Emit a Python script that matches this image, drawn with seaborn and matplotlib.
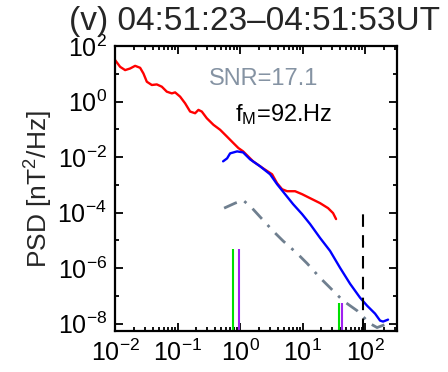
import numpy as np
import pandas as pd
import matplotlib
matplotlib.use("Agg")
import matplotlib.pyplot as plt
import matplotlib.ticker as mticker
import seaborn as sns

# ---- data (log10 values) ----
red_logf = [-2.0, -1.92, -1.84, -1.76, -1.68, -1.6, -1.547, -1.493, -1.413, -1.333,
            -1.253, -1.173, -1.093, -1.04, -0.96, -0.88, -0.80, -0.72, -0.667, -0.613,
            -0.533, -0.427, -0.32, -0.213, -0.107, -0.027, 0.048, 0.208, 0.368, 0.512,
            0.592, 0.672, 0.752, 0.88, 0.992, 1.12, 1.28, 1.408, 1.488, 1.536]
red_logp = [1.495, 1.254, 1.136, 1.194, 1.29, 1.219, 1.014, 0.717, 0.599, 0.620,
            0.538, 0.358, 0.297, 0.333, 0.179, -0.061, -0.358, -0.419, -0.298, -0.358,
            -0.599, -0.835, -1.014, -1.254, -1.495, -1.674, -1.792, -2.152, -2.403, -2.619,
            -2.941, -3.157, -3.229, -3.229, -3.336, -3.48, -3.659, -3.839, -4.018, -4.233]

blue_logf = [-0.272, -0.208, -0.16, -0.048, 0.048, 0.16, 0.32, 0.48, 0.592, 0.72,
             0.848, 0.992, 1.12, 1.28, 1.44, 1.6, 1.76, 1.92, 2.032, 2.16,
             2.24, 2.288, 2.368]
blue_logp = [-2.152, -2.045, -1.865, -1.794, -1.83, -2.081, -2.332, -2.619, -2.977, -3.336,
             -3.695, -4.054, -4.412, -4.914, -5.381, -5.99, -6.565, -7.067, -7.354, -7.641,
             -7.892, -7.928, -7.857]

gray_logf = [-0.256, -0.08, 0.048, 0.192, 0.352, 0.528, 0.688, 0.912, 1.072, 1.28,
             1.488, 1.648, 1.872, 2.0, 2.08, 2.192, 2.32]
gray_logp = [-3.839, -3.659, -3.551, -3.839, -4.233, -4.664, -5.022, -5.47, -5.83, -6.35,
             -6.816, -7.175, -7.534, -7.821, -8.0, -8.143, -8.036]

green_f = [0.77, 38.4]
purple_f = [0.96, 42.9]
stick_tops = [10 ** -5.31, 10 ** -7.25]
fM = 92.0
fM_top = 10 ** -4.05

title_text = "(v) 04:51:23\u201304:51:53UT"
snr_text = "SNR=17.1"
fm_text = r"f$_{\rm M}$=92.Hz"
ylabel_text = r"PSD [nT$^2$/Hz]"

xlim = (10 ** -2.0, 10 ** 2.51)
ylim = (10 ** -8.27, 10 ** 2.0)

# ---- style ----
sns.set_style("ticks")
plt.rcParams["font.family"] = ["Liberation Sans", "DejaVu Sans"]
plt.rcParams["mathtext.fontset"] = "custom"
plt.rcParams["mathtext.rm"] = "Liberation Sans"
plt.rcParams["mathtext.it"] = "Liberation Sans:italic"
plt.rcParams["mathtext.bf"] = "Liberation Sans:bold"

fig = plt.figure(figsize=(4.48, 3.72), dpi=100)
ax = fig.add_axes([0.257, 0.110, 0.629, 0.766])

def frame(lf, lp, name):
    return pd.DataFrame({"f": np.power(10.0, lf), "p": np.power(10.0, lp), "s": name})

df_red = frame(red_logf, red_logp, "red")
df_blue = frame(blue_logf, blue_logp, "blue")
df_gray = frame(gray_logf, gray_logp, "gray")

ax.set_xscale("log")
ax.set_yscale("log")

sns.lineplot(data=df_red, x="f", y="p", color="#ff0000", lw=1.7, ax=ax, sort=False,
             estimator=None)
sns.lineplot(data=df_blue, x="f", y="p", color="#0000ff", lw=1.7, ax=ax, sort=False,
             estimator=None)
sns.lineplot(data=df_gray, x="f", y="p", color="#6f7f8f", lw=2.0, ax=ax, sort=False,
             estimator=None, linestyle=(0, (5, 3, 1, 3)))

ax.vlines(green_f, ylim[0], stick_tops, colors="#00e000", lw=1.5)
ax.vlines(purple_f, ylim[0], stick_tops, colors="#a020f0", lw=1.5)
ax.vlines([fM], ylim[0], [fM_top], colors="black", lw=1.5, linestyles=(0, (6, 4)))

ax.set_xlim(*xlim)
ax.set_ylim(*ylim)

ax.xaxis.set_major_locator(mticker.LogLocator(base=10, numticks=10))
ax.xaxis.set_minor_locator(mticker.LogLocator(base=10, subs=np.arange(2, 10), numticks=20))
ax.xaxis.set_minor_formatter(mticker.NullFormatter())
ax.yaxis.set_major_locator(mticker.FixedLocator([10.0 ** k for k in range(-8, 3, 2)]))
ax.yaxis.set_minor_locator(mticker.FixedLocator([10.0 ** k for k in range(-7, 2, 2)]))
ax.yaxis.set_major_formatter(mticker.LogFormatterSciNotation())
ax.yaxis.set_minor_formatter(mticker.NullFormatter())

ax.tick_params(which="both", direction="in", top=True, right=True, width=1.3, colors="black")
ax.tick_params(which="major", length=6, labelsize=18, pad=6)
ax.tick_params(which="minor", length=3)
for sp in ax.spines.values():
    sp.set_visible(True)
    sp.set_linewidth(1.6)
    sp.set_color("black")

ax.set_xlabel("")
ax.set_ylabel(ylabel_text, fontsize=19, labelpad=2)

fig.text(0.568, 0.985, title_text, fontsize=24, ha="center", va="top")

ax.text(0.526, 0.885, snr_text, transform=ax.transAxes, fontsize=17, color="#8593a3",
        ha="center", va="center")
ax.text(0.6, 0.76, fm_text, transform=ax.transAxes, fontsize=17, color="black",
        ha="center", va="center")

fig.savefig("out.png", dpi=100)
